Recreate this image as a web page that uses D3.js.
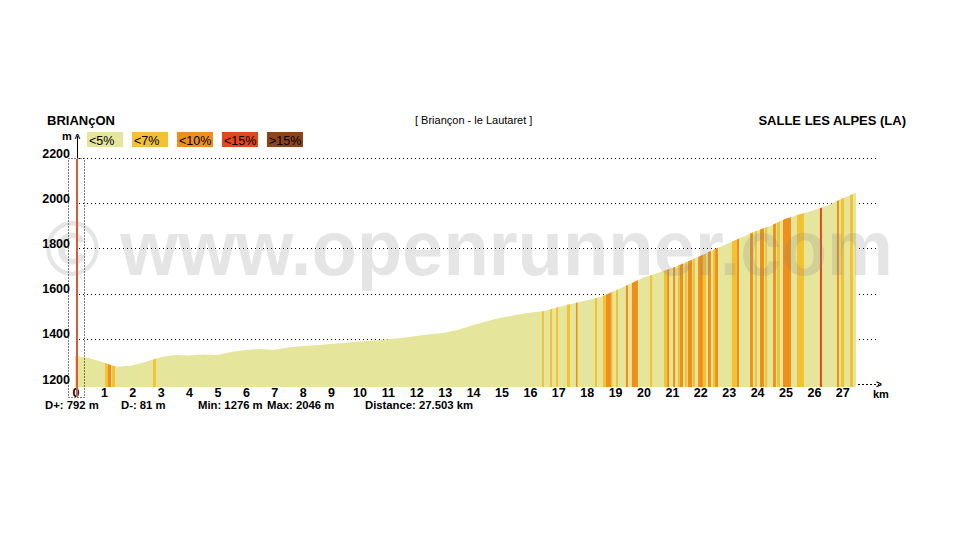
<!DOCTYPE html>
<html>
<head>
<meta charset="utf-8">
<script src="https://cdn.jsdelivr.net/npm/d3@7"></script>
<style>
  html, body { margin: 0; padding: 0; background: #fff; }
  svg { display: block; font-family: Arial, "Liberation Sans", sans-serif; }
</style>
</head>
<body>
<svg id="chart" width="968" height="540"></svg>
<script>
// ---------- data ----------
const startName = "BRIANçON";
const routeName = "[ Briançon - le Lautaret ]";
const endName = "SALLE LES ALPES (LA)";

const classLabels = ["<5%", "<7%", "<10%", "<15%", ">15%"];
const classColors = ["#e5e59b", "#f2c234", "#ef8e18", "#e6461c", "#8c4318"];

const distanceKm = [0, 0.5, 1.0, 1.3, 1.5, 2.0, 2.5, 3.0, 3.5, 4.0, 4.5, 5.0, 5.5, 6.0, 6.5, 7.0, 7.5, 8.0, 8.5, 9.0, 9.5, 10, 10.5, 11, 11.5, 12, 12.5, 13, 13.5, 14, 14.5, 15, 15.5, 16, 16.5, 17, 17.5, 18, 18.5, 19, 19.5, 20, 20.5, 21, 21.5, 22, 22.5, 23, 23.5, 24, 24.5, 25, 25.5, 26, 26.5, 27, 27.503];
const elevationM = [1325, 1315, 1295, 1282, 1276, 1282, 1298, 1318, 1328, 1326, 1330, 1328, 1342, 1350, 1355, 1352, 1362, 1368, 1372, 1377, 1382, 1388, 1392, 1398, 1404, 1412, 1420, 1427, 1440, 1460, 1478, 1493, 1505, 1515, 1522, 1540, 1555, 1570, 1585, 1612, 1640, 1670, 1690, 1712, 1738, 1765, 1795, 1822, 1850, 1878, 1900, 1930, 1950, 1968, 1990, 2020, 2046];

// gradient segments steeper than 5%: start km, end km, class index
const stripeStart = [1.06, 1.16, 1.30, 2.75, 16.44, 16.73, 16.94, 17.32, 17.64, 18.31, 18.59, 18.70, 18.87, 19.05, 19.40, 19.61, 20.25, 20.74, 20.85, 21.06, 21.23, 21.30, 21.48, 21.58, 21.76, 21.94, 22.11, 22.29, 22.46, 22.54, 23.13, 23.31, 23.77, 23.94, 24.12, 24.30, 24.58, 24.72, 24.93, 25.42, 26.23, 26.83, 26.97, 27.29];
const stripeEnd   = [1.16, 1.27, 1.41, 2.85, 16.51, 16.80, 17.01, 17.43, 17.68, 18.38, 18.70, 18.87, 18.91, 19.12, 19.47, 19.82, 20.32, 20.85, 20.92, 21.13, 21.30, 21.41, 21.55, 21.73, 21.83, 22.11, 22.22, 22.39, 22.54, 22.64, 23.31, 23.38, 23.87, 24.01, 24.26, 24.37, 24.68, 24.82, 25.21, 25.67, 26.30, 26.90, 27.08, 27.39];
const stripeClass = [1, 2, 1, 1, 1, 1, 1, 1, 2, 1, 1, 2, 1, 1, 2, 2, 1, 1, 2, 2, 1, 2, 1, 2, 1, 2, 1, 2, 1, 2, 1, 2, 2, 1, 2, 1, 2, 1, 2, 1, 3, 2, 1, 1];

const yTicks = [1200, 1400, 1600, 1800, 2000, 2200];
const xTicks = [0, 1, 2, 3, 4, 5, 6, 7, 8, 9, 10, 11, 12, 13, 14, 15, 16, 17, 18, 19, 20, 21, 22, 23, 24, 25, 26, 27];

const statLabels = ["D+: 792 m", "D-: 81 m", "Min: 1276 m", "Max: 2046 m", "Distance: 27.503 km"];
const statX = [45, 121, 198, 267, 365];
const watermark = "© www.openrunner.com";

// ---------- drawing ----------
const svg = d3.select("#chart");
const x = d3.scaleLinear().domain([0, 27.5]).range([75, 856]);
const y = d3.scaleLinear().domain([1200, 2200]).range([384, 158]);
const baseY = 387;
const profile = distanceKm.map((d, i) => ({ d, e: elevationM[i] }));

// watermark (behind texts, over white)
const wm = svg.append("text").attr("x", 45).attr("y", 275).attr("font-size", 77).attr("font-weight", "bold")
  .attr("textLength", 848).attr("lengthAdjust", "spacingAndGlyphs")
  .attr("fill", "#888").attr("fill-opacity", 0.22).text(watermark);

// header
svg.append("text").attr("x", 47).attr("y", 125).attr("font-size", 13).attr("font-weight", "bold").text(startName);
svg.append("text").attr("x", 415).attr("y", 124).attr("font-size", 11).text(routeName);
svg.append("text").attr("x", 906).attr("y", 125).attr("text-anchor", "end").attr("font-size", 13).attr("font-weight", "bold").text(endName);

// legend
const lg = svg.append("g");
classLabels.forEach((lab, i) => {
  const gx = 87 + i * 45;
  lg.append("rect").attr("x", gx).attr("y", 132).attr("width", 36).attr("height", 15).attr("fill", classColors[i]);
  lg.append("text").attr("x", gx + 2).attr("y", 144.5).attr("font-size", 12.5).attr("fill", "#000").text(lab);
});

// y axis arrow
svg.append("line").attr("x1", 77.5).attr("x2", 77.5).attr("y1", 136).attr("y2", 158).attr("stroke", "#000").attr("stroke-width", 1);
svg.append("text").attr("x", 62).attr("y", 140).attr("font-size", 11).attr("font-weight", "bold").text("m");
svg.append("text").attr("x", 74.5).attr("y", 142).attr("font-size", 10).attr("font-weight", "bold").text("^");

// gridlines (dotted)
svg.append("g").selectAll("line").data(yTicks).join("line")
  .attr("x1", 79).attr("x2", 878)
  .attr("y1", d => Math.round(y(d)) + 0.5).attr("y2", d => Math.round(y(d)) + 0.5)
  .attr("stroke", "#000").attr("stroke-width", 1).attr("stroke-dasharray", "1,3");

// y tick labels
svg.append("g").selectAll("text").data(yTicks).join("text")
  .attr("x", 70).attr("y", d => y(d) - 0.5).attr("text-anchor", "end")
  .attr("font-size", 12.5).attr("font-weight", "bold").text(d => d);

// area
const area = d3.area().x(p => x(p.d)).y0(baseY).y1(p => y(p.e)).curve(d3.curveLinear);
svg.append("defs").append("clipPath").attr("id", "clipArea").append("path").attr("d", area(profile));
svg.append("path").attr("d", area(profile)).attr("fill", classColors[0]);

const stripes = stripeStart.map((s, i) => ({ s, e: stripeEnd[i], c: stripeClass[i] }));
svg.append("g").attr("clip-path", "url(#clipArea)").selectAll("rect").data(stripes).join("rect")
  .attr("x", d => x(d.s)).attr("width", d => Math.max(1.5, x(d.e) - x(d.s)))
  .attr("y", 150).attr("height", baseY - 150)
  .attr("fill", d => classColors[d.c]);

// watermark overlay on the profile (same text, clipped to the area)
svg.append("g").attr("clip-path", "url(#clipArea)").append("text")
  .attr("x", 45).attr("y", 275).attr("font-size", 77).attr("font-weight", "bold")
  .attr("textLength", 848).attr("lengthAdjust", "spacingAndGlyphs")
  .attr("fill", "#888").attr("fill-opacity", 0.22).attr("aria-hidden", "true").text(watermark);

// km axis extension
svg.append("line").attr("x1", 858).attr("x2", 880).attr("y1", 384.5).attr("y2", 384.5)
  .attr("stroke", "#000").attr("stroke-dasharray", "1,3");
svg.append("text").attr("x", 876).attr("y", 388).attr("font-size", 10).attr("font-weight", "bold").text(">");
svg.append("text").attr("x", 873).attr("y", 398).attr("font-size", 11).attr("font-weight", "bold").text("km");

// x tick labels
svg.append("g").selectAll("text").data(xTicks).join("text")
  .attr("x", d => x(d) + 1).attr("y", 397).attr("text-anchor", "middle")
  .attr("font-size", 12.5).attr("font-weight", "bold").text(d => d);

// cursor marker
svg.append("rect").attr("x", 68.5).attr("y", 158.5).attr("width", 16).attr("height", 239)
  .attr("fill", "none").attr("stroke", "#000").attr("stroke-width", 1).attr("stroke-dasharray", "1,2");
svg.append("line").attr("x1", 77).attr("x2", 77).attr("y1", 159).attr("y2", 397)
  .attr("stroke", "#e2573a").attr("stroke-width", 2);

// stats
svg.append("g").selectAll("text").data(statLabels).join("text")
  .attr("x", (d, i) => statX[i]).attr("y", 409)
  .attr("font-size", 11.3).attr("font-weight", "bold").text(d => d);
</script>
</body>
</html>
